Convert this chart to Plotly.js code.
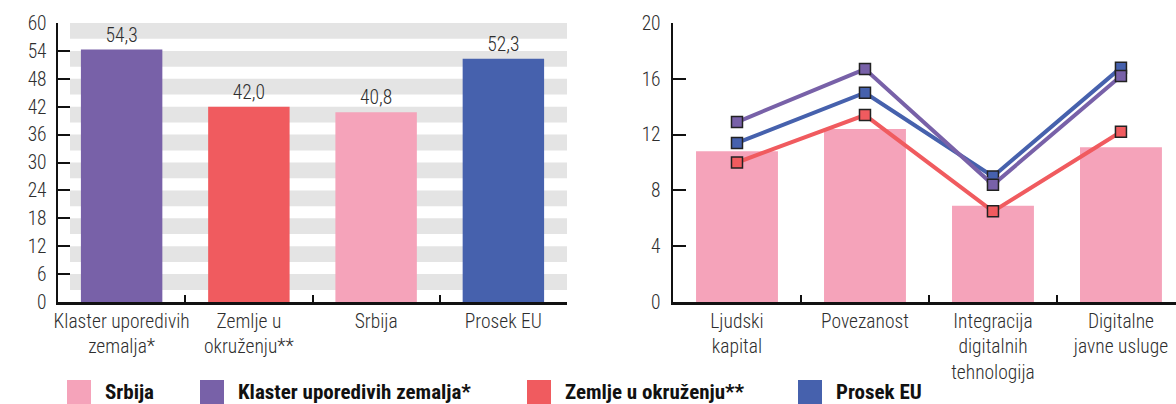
<!DOCTYPE html>
<html>
<head>
<meta charset="utf-8">
<script src="https://cdn.plot.ly/plotly-3.0.1.min.js"></script>
<style>
  html, body { margin: 0; padding: 0; background: #ffffff; overflow: hidden; }
  #chart { width: 1176px; height: 404px; }
  #chart svg text { font-stretch: condensed; }
</style>
</head>
<body>
<div id="chart"></div>
<script>
// ---- Data ----
const groupCategories = ['Klaster uporedivih<br>zemalja*', 'Zemlje u<br>okruženju**', 'Srbija', 'Prosek EU'];
const groupValues = [54.3, 42.0, 40.8, 52.3];

const pillarCategories = ['Ljudski<br>kapital', 'Povezanost', 'Integracija<br>digitalnih<br>tehnologija', 'Digitalne<br>javne usluge'];
const srbija = [10.8, 12.4, 6.9, 11.1];
const klaster = [12.9, 16.7, 8.4, 16.2];
const okruzenje = [10.0, 13.4, 6.5, 12.2];
const prosekEU = [11.4, 15.0, 9.0, 16.8];

const leftTicks = [0, 6, 12, 18, 24, 30, 36, 42, 48, 54, 60];
const rightTicks = [0, 4, 8, 12, 16, 20];

const seriesNames = ['Srbija', 'Klaster uporedivih zemalja*', 'Zemlje u okruženju**', 'Prosek EU'];

// ---- Styles ----
const COL = {
  srbija: '#f5a3ba',
  klaster: '#7861a8',
  okruzenje: '#f05b5f',
  eu: '#4661ad'
};
const groupColors = [COL.klaster, COL.okruzenje, COL.srbija, COL.eu];
const legendColors = [COL.srbija, COL.klaster, COL.okruzenje, COL.eu];
const legendX = [67, 200, 527, 798];

const W = 1176, H = 404;
const FONT = 'Roboto Condensed, Roboto, Open Sans, sans-serif';
const TXT = '#2e2e2e';

const fmt = v => v.toFixed(1).replace('.', ',');
const lightFont = (size, color) => ({ family: FONT, size: size, color: color || TXT, weight: 300 });

const traces = [
  {
    type: 'bar', x: groupCategories, y: groupValues,
    marker: { color: groupColors },
    width: 0.64,
    text: groupValues.map(fmt), textposition: 'outside', cliponaxis: false,
    textfont: lightFont(19.5),
    xaxis: 'x', yaxis: 'y', showlegend: false, hoverinfo: 'x+y'
  },
  {
    type: 'bar', x: pillarCategories, y: srbija,
    marker: { color: COL.srbija }, width: 0.64,
    xaxis: 'x2', yaxis: 'y2', showlegend: false, name: seriesNames[0]
  },
  {
    type: 'scatter', mode: 'lines+markers', x: pillarCategories, y: okruzenje,
    line: { color: COL.okruzenje, width: 4 },
    marker: { symbol: 'square', size: 11, color: COL.okruzenje, line: { color: '#222', width: 1.5 } },
    xaxis: 'x2', yaxis: 'y2', showlegend: false, name: seriesNames[2], cliponaxis: false
  },
  {
    type: 'scatter', mode: 'lines+markers', x: pillarCategories, y: prosekEU,
    line: { color: COL.eu, width: 4 },
    marker: { symbol: 'square', size: 11, color: COL.eu, line: { color: '#222', width: 1.5 } },
    xaxis: 'x2', yaxis: 'y2', showlegend: false, name: seriesNames[3], cliponaxis: false
  },
  {
    type: 'scatter', mode: 'lines+markers', x: pillarCategories, y: klaster,
    line: { color: COL.klaster, width: 4 },
    marker: { symbol: 'square', size: 11, color: COL.klaster, line: { color: '#222', width: 1.5 } },
    xaxis: 'x2', yaxis: 'y2', showlegend: false, name: seriesNames[1], cliponaxis: false
  }
];

const yDom = [(H - 302) / H, (H - 23) / H];

const axisCommon = {
  showgrid: false, zeroline: false, showline: true,
  linecolor: '#111', linewidth: 2.5,
  ticks: 'inside', tickcolor: '#111', tickwidth: 2,
  tickfont: lightFont(19.5),
  tickangle: 0,
  fixedrange: true
};

const shapes = [];
// gray bands on the left panel
leftTicks.filter(t => t > 0).forEach(t => {
  shapes.push({
    type: 'rect', layer: 'below', xref: 'paper', yref: 'y',
    x0: 70 / W, x1: 567 / W, y0: t - 3.4, y1: t,
    fillcolor: '#e4e4e4', line: { width: 0 }
  });
});
// legend swatches
const annotations = [];
seriesNames.forEach((name, i) => {
  shapes.push({
    type: 'rect', xref: 'paper', yref: 'paper',
    x0: legendX[i] / W, x1: (legendX[i] + 24) / W,
    y0: (H - 404) / H, y1: (H - 380) / H,
    fillcolor: legendColors[i], line: { width: 0 }
  });
  annotations.push({
    xref: 'paper', yref: 'paper', x: (legendX[i] + 36) / W, y: (H - 392) / H,
    xanchor: 'left', yanchor: 'middle', showarrow: false,
    text: name,
    font: { family: FONT, size: 21, color: '#111', weight: 700 }
  });
});

const layout = {
  width: W, height: H,
  margin: { l: 0, r: 0, t: 0, b: 0 },
  paper_bgcolor: '#ffffff', plot_bgcolor: 'rgba(0,0,0,0)',
  showlegend: false,
  xaxis: Object.assign({}, axisCommon, {
    domain: [58 / W, 567 / W], type: 'category', tickson: 'boundaries',
    ticklen: 7, range: [-0.5, 3.5], anchor: 'y'
  }),
  yaxis: Object.assign({}, axisCommon, {
    domain: yDom, range: [0, 60], tickvals: leftTicks, ticklen: 12, anchor: 'x',
    ticklabelstandoff: 5
  }),
  xaxis2: Object.assign({}, axisCommon, {
    domain: [673 / W, 1], type: 'category', tickson: 'boundaries',
    ticklen: 7, range: [-0.5, 3.43], anchor: 'y2'
  }),
  yaxis2: Object.assign({}, axisCommon, {
    domain: yDom, range: [0, 20], tickvals: rightTicks, ticklen: 13, anchor: 'x2',
    ticklabelstandoff: 6
  }),
  shapes: shapes,
  annotations: annotations
};

Plotly.newPlot('chart', traces, layout, { displayModeBar: false, staticPlot: true });
</script>
</body>
</html>
